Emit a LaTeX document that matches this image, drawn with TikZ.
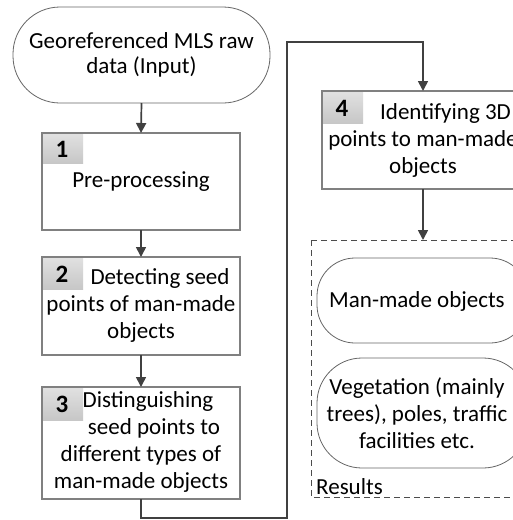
\documentclass[tikz,border=0pt]{standalone}
\usepackage{fontspec}
\setmainfont{Carlito}
\usetikzlibrary{arrows.meta,positioning,calc}
\tikzset{
  x=1pt,y=-1pt,
  txt/.style={font=\fontsize{23}{27}\selectfont,align=center,text=black,inner sep=0pt},
  step box/.style={draw=black!50,line width=1.2pt,fill=white},
  term/.style={draw=black!60,line width=0.8pt,fill=white},
  tab/.style={top color=black!12,bottom color=black!22,draw=none},
  tabnum/.style={font=\fontsize{25}{26}\selectfont\bfseries},
  flow/.style={draw=black!75,line width=1.7pt,-{Triangle[length=10pt,width=10pt]}},
  results/.style={draw=black!70,line width=0.8pt,dash pattern=on 6pt off 4pt}
}
\begin{document}
\begin{tikzpicture}
\useasboundingbox (0,0) rectangle (513,520);
\clip (0,0) rectangle (513,520);

% start terminal
\draw[term,rounded corners=47pt] (13,7) rectangle (270,103);
\node[txt,font=\fontsize{23}{25}\selectfont] (input) at (141.5,55) {Georeferenced MLS raw\\data (Input)};
\coordinate (inputS) at (141.5,103);

% step 1
\draw[step box] (42,133) rectangle (240,230);
\fill[tab] (43,134) rectangle (83,163);
\node[tabnum] at (62,149) {1};
\node[txt] (s1) at (141,182) {Pre-processing};
\coordinate (s1N) at (141,133);
\coordinate (s1S) at (141,230);

% step 2
\draw[step box] (42,257) rectangle (240,355);
\fill[tab] (43,258) rectangle (83,289);
\node[tabnum] at (62,274) {2};
\node[txt] (s2) at (141,305) {\hspace*{38pt}Detecting seed\\points of man-made\\objects};
\coordinate (s2N) at (141,257);
\coordinate (s2S) at (141,355);

% step 3
\draw[step box] (42,387) rectangle (240,499);
\fill[tab] (43,388) rectangle (83,420);
\node[tabnum] at (62,404) {3};
\node[txt] (s3) at (141,442) {\hspace*{14pt}Distinguishing\\\hspace*{26pt}seed points to\\different types of\\man-made objects};
\coordinate (s3N) at (141,387);
\coordinate (s3S) at (141,499);

% step 4
\draw[step box] (322,91) rectangle (524,189);
\fill[tab] (323,92) rectangle (363,123);
\node[tabnum] at (342,108) {4};
\node[txt] (s4) at (423,140) {\hspace*{45pt}Identifying 3D\\points to man-made\\objects};
\coordinate (s4N) at (423,91);
\coordinate (s4S) at (423,189);

% results container
\draw[results] (311,240) -- (311,497) -- (530,497);
\draw[results] (311,240) -- (530,240);
\coordinate (resN) at (423,240);
\node[txt,anchor=west] (reslabel) at (316,487) {Results};

\draw[term,rounded corners=38pt] (317,258) rectangle (528,343);
\node[txt] (made) at (417,301) {Man-made objects};
\draw[term,rounded corners=45pt] (317,358) rectangle (528,468);
\node[txt] (veg) at (417,413) {Vegetation (mainly\\trees), poles, traffic\\facilities etc.};

% connectors
\draw[flow] (inputS) -- (s1N);
\draw[flow] (s1S) -- (s2N);
\draw[flow] (s2S) -- (s3N);
\draw[flow] (s3S) -- (141,518) -- (287,518) -- (287,42) -- (423,42) -- (s4N);
\draw[flow] (s4S) -- (resN);
\end{tikzpicture}
\end{document}
